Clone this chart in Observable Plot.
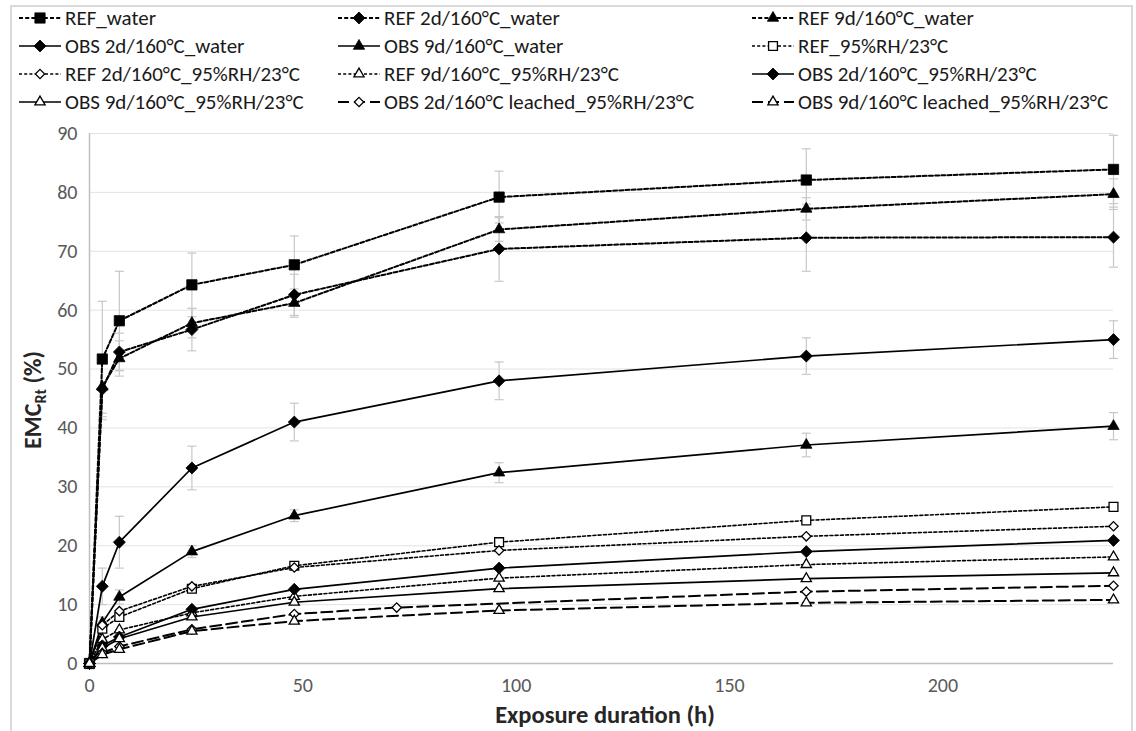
<!DOCTYPE html>
<html><head><meta charset="utf-8">
<script src="https://cdn.jsdelivr.net/npm/d3@7"></script>
<script src="https://cdn.jsdelivr.net/npm/@observablehq/plot@0.6"></script>
<style>
body{margin:0;background:#fff;width:1136px;height:731px;overflow:hidden;position:relative;font-family:Carlito,Lato,"Open Sans",sans-serif;}
#frame{position:absolute;left:10px;top:5px;width:1123px;height:760px;border:2px solid #d9d9d9;box-sizing:border-box;}
#legend{position:absolute;left:0;top:0;width:1136px;height:120px;}
.item{position:absolute;display:flex;align-items:center;font-size:21px;color:#1a1a1a;white-space:nowrap;height:24px}
.item svg{margin-right:3px;flex:none}
#chart{position:absolute;left:0;top:120px;}
</style></head><body>
<div id="frame"></div><div id="legend"></div><div id="chart"></div>
<script>
// ---- data ----
const hours = [0, 3, 7, 24, 48, 96, 168, 240];
const hoursLeached2d = [0, 3, 7, 24, 48, 72, 168, 240];

const REF_water        = [0, 51.7, 58.2, 64.3, 67.7, 79.2, 82.1, 83.9];
const REF_2d_water     = [0, 46.6, 52.9, 56.7, 62.6, 70.4, 72.3, 72.4];
const REF_9d_water     = [0, 47.0, 51.8, 57.8, 61.2, 73.7, 77.2, 79.7];
const OBS_2d_water     = [0, 13.1, 20.6, 33.2, 41.0, 48.0, 52.2, 55.0];
const OBS_9d_water     = [0, 6.9, 11.3, 19.0, 25.1, 32.4, 37.1, 40.3];
const REF_RH           = [0, 5.9, 7.9, 12.7, 16.6, 20.6, 24.3, 26.6];
const REF_2d_RH        = [0, 6.5, 8.9, 13.1, 16.3, 19.2, 21.6, 23.3];
const REF_9d_RH        = [0, 4.1, 5.7, 8.6, 11.4, 14.5, 16.8, 18.1];
const OBS_2d_RH        = [0, 3.0, 4.5, 9.2, 12.6, 16.2, 19.0, 20.9];
const OBS_9d_RH        = [0, 2.6, 4.2, 7.9, 10.4, 12.7, 14.4, 15.4];
const OBS_2d_leachedRH = [0, 1.8, 2.9, 5.8, 8.4, 9.5, 12.2, 13.2];
const OBS_9d_leachedRH = [0, 1.5, 2.4, 5.5, 7.2, 9.0, 10.3, 10.8];

// standard deviations (error bars)
const REF_water_sd    = [0, 9.8, 8.4, 5.4, 4.9, 4.4, 5.3, 5.8];
const REF_2d_water_sd = [0, 5.2, 3.2, 3.6, 3.5, 5.5, 5.7, 5.1];
const REF_9d_water_sd = [0, 4.5, 3.0, 2.5, 2.4, 2.0, 1.9, 2.6];
const OBS_2d_water_sd = [0, 3.1, 4.4, 3.7, 3.2, 3.2, 3.1, 3.2];
const OBS_9d_water_sd = [0, 1.0, 1.2, 1.0, 1.0, 1.7, 2.0, 2.3];

const seriesNames = [
  "REF_water", "REF 2d/160°C_water", "REF 9d/160°C_water",
  "OBS 2d/160°C_water", "OBS 9d/160°C_water", "REF_95%RH/23°C",
  "REF 2d/160°C_95%RH/23°C", "REF 9d/160°C_95%RH/23°C", "OBS 2d/160°C_95%RH/23°C",
  "OBS 9d/160°C_95%RH/23°C", "OBS 2d/160°C leached_95%RH/23°C", "OBS 9d/160°C leached_95%RH/23°C"
];
const xTicks = [0, 50, 100, 150, 200];
const yTicks = [0, 10, 20, 30, 40, 50, 60, 70, 80, 90];

// ---- styles ----
const lineStyles = {
  dash: {dash: "4,2.2", width: 2},
  dot: {dash: "3,2.2", width: 1.6},
  solid: {dash: null, width: 1.7},
  long: {dash: "11,5", width: 2}
};
const series = [
  {name: seriesNames[0], x: hours, y: REF_water, sd: REF_water_sd, sym: "square", filled: true, line: "dash"},
  {name: seriesNames[1], x: hours, y: REF_2d_water, sd: REF_2d_water_sd, sym: "diamond2", filled: true, line: "dash"},
  {name: seriesNames[2], x: hours, y: REF_9d_water, sd: REF_9d_water_sd, sym: "triangle", filled: true, line: "dash"},
  {name: seriesNames[3], x: hours, y: OBS_2d_water, sd: OBS_2d_water_sd, sym: "diamond2", filled: true, line: "solid"},
  {name: seriesNames[4], x: hours, y: OBS_9d_water, sd: OBS_9d_water_sd, sym: "triangle", filled: true, line: "solid"},
  {name: seriesNames[5], x: hours, y: REF_RH, sym: "square", filled: false, line: "dot"},
  {name: seriesNames[6], x: hours, y: REF_2d_RH, sym: "diamond2", filled: false, line: "dot"},
  {name: seriesNames[7], x: hours, y: REF_9d_RH, sym: "triangle", filled: false, line: "dot"},
  {name: seriesNames[8], x: hours, y: OBS_2d_RH, sym: "diamond2", filled: true, line: "solid"},
  {name: seriesNames[9], x: hours, y: OBS_9d_RH, sym: "triangle", filled: false, line: "solid"},
  {name: seriesNames[10], x: hoursLeached2d, y: OBS_2d_leachedRH, sym: "diamond2", filled: false, line: "long"},
  {name: seriesNames[11], x: hours, y: OBS_9d_leachedRH, sym: "triangle", filled: false, line: "long"}
];
const symSize = s => s.filled
  ? (s.sym === "square" ? 5.8 : s.sym === "triangle" ? 4.2 : 5.4)
  : (s.sym === "square" ? 5.0 : s.sym === "triangle" ? 3.8 : 4.2);

const capSymbol = {draw(ctx) { ctx.moveTo(-4.5, 0); ctx.lineTo(4.5, 0); }};

const rows = series.map(s => s.x.map((x, i) => ({series: s.name, x, y: s.y[i], sd: s.sd ? s.sd[i] : 0})));
const errRows = rows.flat().filter(d => d.sd > 0);

const marks = [
  Plot.gridY(yTicks.slice(1), {stroke: "#e3e3e3", strokeOpacity: 1, strokeWidth: 1}),
  Plot.ruleY([0], {stroke: "#bfbfbf", strokeWidth: 1.5}),
  Plot.ruleX([0], {stroke: "#bfbfbf", strokeWidth: 1.5}),
  Plot.ruleX(errRows, {x: "x", y1: d => d.y - d.sd, y2: d => d.y + d.sd, stroke: "#c8c8c8", strokeWidth: 1.2}),
  Plot.dot(errRows, {x: "x", y: d => d.y - d.sd, symbol: capSymbol, stroke: "#c8c8c8", fill: "none", strokeWidth: 1.2}),
  Plot.dot(errRows, {x: "x", y: d => d.y + d.sd, symbol: capSymbol, stroke: "#c8c8c8", fill: "none", strokeWidth: 1.2})
];
series.forEach((s, k) => {
  const st = lineStyles[s.line];
  marks.push(Plot.line(rows[k], {x: "x", y: "y", stroke: "#000", strokeWidth: st.width, strokeDasharray: st.dash || undefined}));
});
series.forEach((s, k) => {
  marks.push(Plot.dot(rows[k], {x: "x", y: "y", symbol: s.sym, r: symSize(s), fill: s.filled ? "#000" : "#fff", stroke: "#000", strokeWidth: s.filled ? 0.8 : 1.3}));
});

const svg = Plot.plot({
  width: 1136, height: 611,
  marginLeft: 89, marginRight: 23, marginTop: 13, marginBottom: 68,
  style: {fontFamily: 'Carlito,Lato,"Open Sans",sans-serif', fontSize: "20px", color: "#595959", background: "transparent"},
  x: {domain: [0, 240], ticks: xTicks, tickSize: 0, tickPadding: 14, label: null},
  y: {domain: [0, 90], ticks: yTicks, tickSize: 0, tickPadding: 12, label: null},
  marks
});
document.getElementById("chart").appendChild(svg);

// axis titles
const s = d3.select(svg);
s.append("text").attr("x", 605).attr("y", 603).attr("text-anchor", "middle")
  .attr("font-weight", "bold").attr("font-size", "24.5px").attr("fill", "#262626").text("Exposure duration (h)");
const yt = s.append("text").attr("transform", "translate(41,280) rotate(-90)").attr("text-anchor", "middle")
  .attr("font-weight", "bold").attr("font-size", "24px").attr("fill", "#262626");
yt.append("tspan").text("EMC");
yt.append("tspan").attr("font-size", "16px").attr("dy", "5").text("Rt");
yt.append("tspan").attr("dy", "-5").text(" (%)");

// legend
const legend = d3.select("#legend");
const colX = [18, 337, 751], rowY = [18, 46, 74, 102];
series.forEach((sr, i) => {
  const st = lineStyles[sr.line];
  const it = legend.append("div").attr("class", "item")
    .style("left", colX[i % 3] + "px").style("top", (rowY[Math.floor(i / 3)] - 12) + "px");
  const sw = it.append("svg").attr("width", 44).attr("height", 18);
  sw.append("line").attr("x1", 1).attr("x2", 43).attr("y1", 9).attr("y2", 9)
    .attr("stroke", "#000").attr("stroke-width", st.width).attr("stroke-dasharray", st.dash);
  const symType = {square: d3.symbolSquare, diamond2: d3.symbolDiamond2, triangle: d3.symbolTriangle}[sr.sym];
  const r = symSize(sr);
  sw.append("path").attr("transform", "translate(22,9)")
    .attr("d", d3.symbol(symType, r * r * Math.PI)())
    .attr("fill", sr.filled ? "#000" : "#fff").attr("stroke", "#000").attr("stroke-width", sr.filled ? 0.8 : 1.3);
  it.append("span").text(sr.name);
});
</script></body></html>
